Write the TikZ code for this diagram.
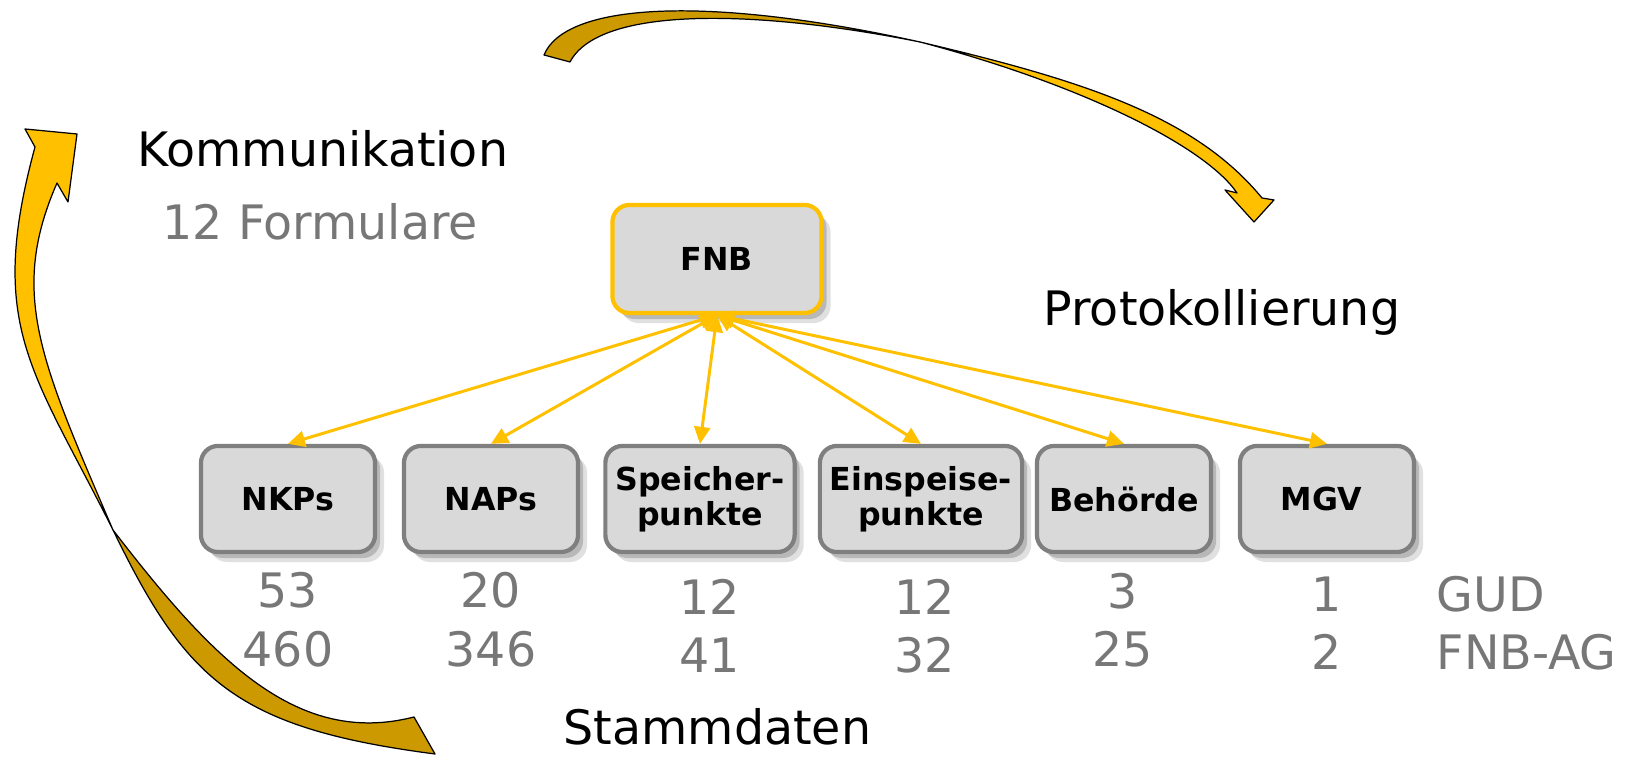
\documentclass[tikz,border=0pt]{standalone}
\usepackage{fontspec}
\setmainfont{DejaVu Sans}
\usetikzlibrary{arrows.meta,shadows}
\definecolor{gold}{HTML}{FFC000}
\definecolor{darkgold}{HTML}{CC9900}
\definecolor{boxgray}{HTML}{D9D9D9}
\definecolor{rimgray}{HTML}{7F7F7F}
\definecolor{numgray}{HTML}{777777}
\tikzset{
    station/.style={
        draw=rimgray,
        line width=1.2pt,
        fill=boxgray,
        rounded corners=1.7mm,
        minimum width=17.4mm,
        minimum height=10.6mm,
        inner xsep=1mm,
        align=center,
        font=\fontsize{9}{10}\selectfont\bfseries,
        drop shadow={shadow xshift=0.9mm, shadow yshift=-1mm, opacity=0.12, fill=black},
        drop shadow={shadow xshift=0.5mm, shadow yshift=-0.6mm, opacity=0.18, fill=black}
    },
    hub/.style={station, draw=gold, minimum width=20.9mm, minimum height=10.8mm},
    link/.style={draw=gold, line width=0.85pt,
        {Triangle[length=1.7mm,width=1.6mm]}-{Triangle[length=1.7mm,width=1.6mm]}},
    tally/.style={text=numgray, font=\fontsize{13.5}{16}\selectfont, anchor=base, inner sep=0pt},
    heading/.style={font=\fontsize{13.5}{16}\selectfont, anchor=base west, inner sep=0pt},
    ribbon/.style={draw=black, line width=0.35pt, line join=round}
}

\begin{document}
\begin{tikzpicture}[x=0.01cm, y=-0.01cm]
    \useasboundingbox (0,0) rectangle (1635,762);

    \filldraw[ribbon, fill=darkgold]
        (113,530) .. controls (213,660) and (297,747) .. (414,717)
        -- (435,754) .. controls (235,728) and (186,680) .. (113,530) -- cycle;
    \filldraw[ribbon, fill=gold]
        (113,530) .. controls (33,370) and (-14,327) .. (35,147)
        -- (25,129) -- (77,134) -- (68,202) -- (57,183)
        .. controls (9,293) and (40,360) .. (113,530) -- cycle;

    \filldraw[ribbon, fill=darkgold]
        (544,55) .. controls (565,4) and (702,-6) .. (920,42)
        .. controls (760,10) and (600,5) .. (570,62) -- cycle;
    \filldraw[ribbon, fill=gold]
        (920,42) .. controls (1080,80) and (1194,115) .. (1262,198)
        -- (1274,200) -- (1254,222) -- (1225,190) -- (1237,193)
        .. controls (1205,146) and (1080,84) .. (920,42) -- cycle;

    \node[heading] (komm) at (137,167) {Kommunikation};
    \node[heading, text=numgray] (form) at (162,240) {12 Formulare};
    \node[heading] (prot) at (1043,326) {Protokollierung};
    \node[heading] (stamm) at (563,745) {Stammdaten};

    \node[hub] (fnb) at (717,259) {FNB};
    \foreach \nm/\px/\lbl in {
        nkp/288/NKPs, nap/491/NAPs, spp/700/{Speicher-\\punkte},
        esp/921/{Einspeise-\\punkte}, beh/1124/Behörde, mgv/1327/MGV
    }
        \node[station] (\nm) at (\px,499) {\lbl};
    \foreach \nm in {nkp,nap,spp,esp,beh,mgv}
        \draw[link] (fnb.south) -- (\nm.north);

    \foreach \px/\py/\num [count=\i] in {
        288/608/53, 288/667/460, 491/608/20, 491/667/346,
        710/615/12, 710/673/41, 925/615/12, 925/673/32,
        1123/609/3, 1123/667/25, 1327/612/1, 1327/670/2
    }
        \node[tally] (n\i) at (\px,\py) {\num};
    \node[tally, anchor=base west] (gud) at (1436,612) {GUD};
    \node[tally, anchor=base west] (fnbag) at (1436,670) {FNB-AG};
\end{tikzpicture}
\end{document}
